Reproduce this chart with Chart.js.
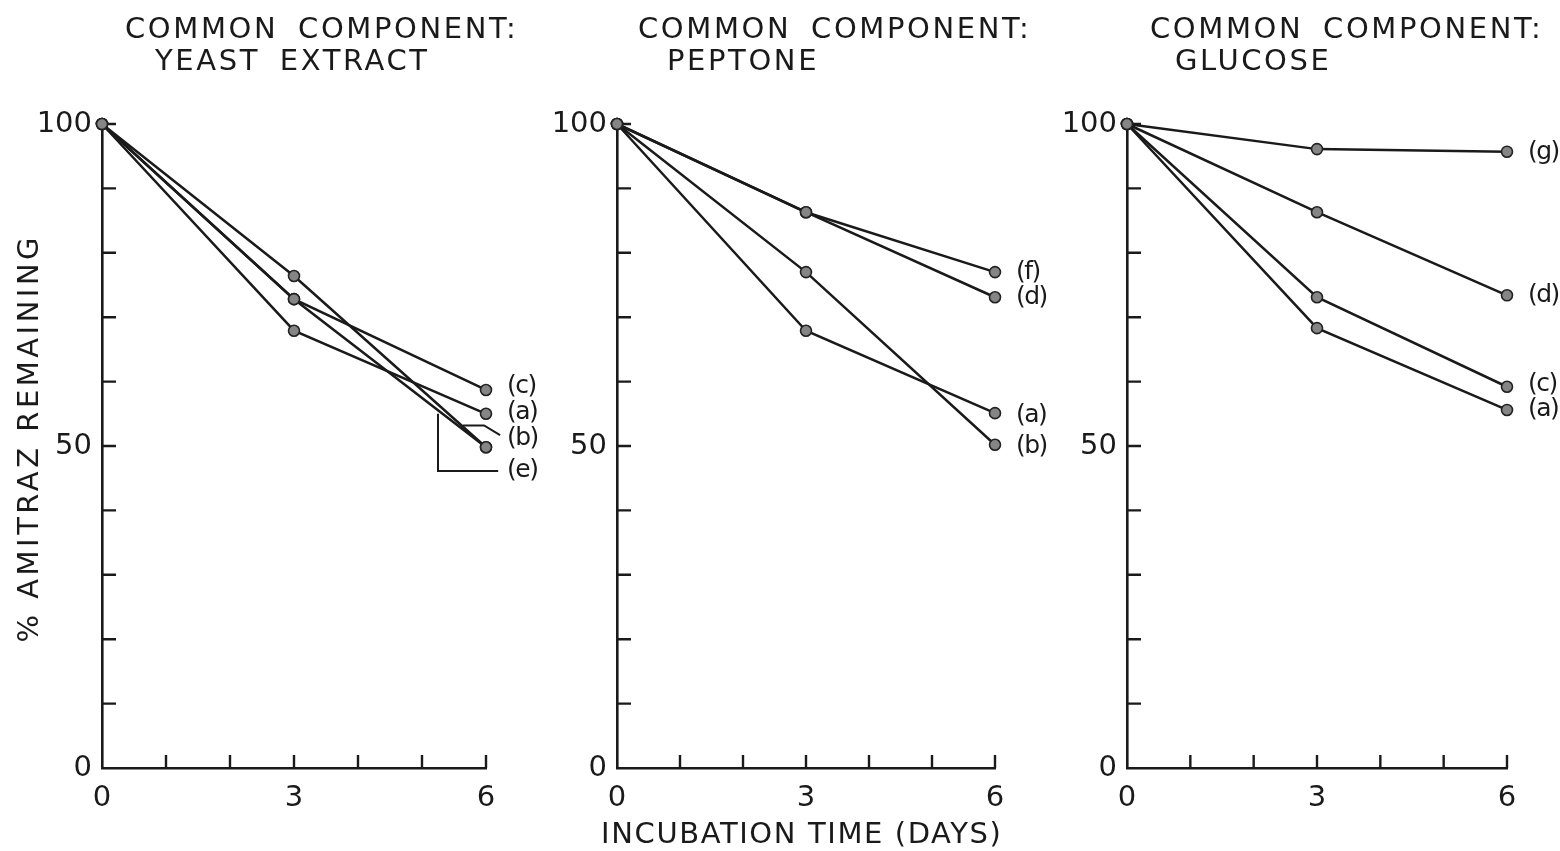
<!DOCTYPE html>
<html>
<head>
<meta charset="utf-8">
<script src="https://cdn.jsdelivr.net/npm/chart.js@4.4.1/dist/chart.umd.min.js"></script>
<style>
  html, body { margin: 0; padding: 0; background: #ffffff; }
  #wrap { position: relative; width: 1560px; height: 851px; background: #ffffff; overflow: hidden; }
  #wrap canvas { position: absolute; left: 0; top: 0; }
</style>
</head>
<body>
<div id="wrap">
  <canvas id="p1" width="1560" height="851"></canvas>
  <canvas id="p2" width="1560" height="851"></canvas>
  <canvas id="p3" width="1560" height="851"></canvas>
</div>
<script>
// Incubation time (days) and axis labels
const days = [0, 3, 6];
const xTickLabels = [0, 3, 6];
const yTickLabels = [0, 50, 100];

// % amitraz remaining — common component: yeast extract
const yeastC = [100, 72.8, 58.7];
const yeastA = [100, 67.9, 55.0];
const yeastB = [100, 76.4, 49.8];
const yeastE = [100, 72.8, 49.8];

// common component: peptone
const peptoneF = [100, 86.3, 77.0];
const peptoneD = [100, 86.3, 73.1];
const peptoneA = [100, 67.9, 55.1];
const peptoneB = [100, 77.0, 50.2];

// common component: glucose
const glucoseG = [100, 96.1, 95.7];
const glucoseD = [100, 86.3, 73.4];
const glucoseC = [100, 73.1, 59.2];
const glucoseA = [100, 68.3, 55.6];

const FONT = '"DejaVu Sans", "Liberation Sans", sans-serif';
const INK = '#1a1a1a';
const Y_W = 95;   // width reserved for the y scale
const X_H = 60;   // height reserved for the x scale

const panels = [
  {
    id: 'p1', left: 102, right: 486,
    title: ['COMMON COMPONENT:', 'YEAST EXTRACT'], indent: [23, 53],
    series: [
      { name: 'c', values: yeastC, shift: -3 },
      { name: 'a', values: yeastA, shift: -1 },
      { name: 'b', values: yeastB, shift: -9 },
      { name: 'e', values: yeastE, shift: 23 }
    ],
    // leader lines tying (b) and (e) to their curves, in data units
    leaders: [
      [[5.64, 53.2], [5.97, 53.2], [6.22, 51.7]],
      [[5.25, 55.0], [5.25, 46.1], [6.19, 46.1]]
    ],
    yTitle: '% AMITRAZ REMAINING'
  },
  {
    id: 'p2', left: 617, right: 995,
    title: ['COMMON COMPONENT:', 'PEPTONE'], indent: [21, 50],
    series: [
      { name: 'f', values: peptoneF, shift: 0 },
      { name: 'd', values: peptoneD, shift: 0 },
      { name: 'a', values: peptoneA, shift: 2 },
      { name: 'b', values: peptoneB, shift: 2 }
    ],
    leaders: [],
    xTitle: 'INCUBATION TIME (DAYS)'
  },
  {
    id: 'p3', left: 1127, right: 1507,
    title: ['COMMON COMPONENT:', 'GLUCOSE'], indent: [23, 48],
    series: [
      { name: 'g', values: glucoseG, shift: 1 },
      { name: 'd', values: glucoseD, shift: 0 },
      { name: 'c', values: glucoseC, shift: -2 },
      { name: 'a', values: glucoseA, shift: 0 }
    ],
    leaders: []
  }
];

function drawText(ctx, text, x, y, size, spacing, align, wordGap) {
  ctx.save();
  ctx.font = size + 'px ' + FONT;
  ctx.fillStyle = INK;
  ctx.letterSpacing = spacing + 'px';
  ctx.wordSpacing = (wordGap || 0) + 'px';
  ctx.textBaseline = 'middle';
  const w = ctx.measureText(text).width - spacing;
  const sx = align === 'center' ? x - w / 2 : x;
  ctx.textAlign = 'left';
  ctx.fillText(text, sx, y);
  ctx.restore();
}

// Inward tick marks on both axes
const innerTicks = {
  id: 'innerTicks',
  beforeDatasetsDraw(chart) {
    const { ctx, scales: { x, y }, chartArea: a } = chart;
    ctx.save();
    ctx.strokeStyle = INK;
    ctx.lineWidth = 2.4;
    ctx.beginPath();
    for (let v = 1; v <= 6; v++) {
      const px = x.getPixelForValue(v);
      ctx.moveTo(px, a.bottom);
      ctx.lineTo(px, a.bottom - 13);
    }
    for (let v = 10; v <= 100; v += 10) {
      const py = y.getPixelForValue(v);
      ctx.moveTo(a.left, py);
      ctx.lineTo(a.left + 14, py);
    }
    ctx.stroke();
    ctx.restore();
  }
};

// Titles, axis titles, curve labels and leader lines
const decor = {
  id: 'decor',
  afterDraw(chart, args, opts) {
    const p = opts.panel;
    const { ctx, scales: { x, y }, chartArea: a } = chart;
    drawText(ctx, p.title[0], a.left + p.indent[0], 30, 29, 2.6, 'left', 8);
    drawText(ctx, p.title[1], a.left + p.indent[1], 62, 29, 2.6, 'left', 8);

    if (p.yTitle) {
      ctx.save();
      ctx.translate(30, 440);
      ctx.rotate(-Math.PI / 2);
      drawText(ctx, p.yTitle, 0, 0, 29, 3.5, 'center');
      ctx.restore();
    }
    if (p.xTitle) {
      drawText(ctx, p.xTitle, (a.left + a.right) / 2 - 5, 835, 29, 1.6, 'center');
    }

    chart.data.datasets.forEach((ds, i) => {
      const meta = chart.getDatasetMeta(i);
      const last = meta.data[meta.data.length - 1];
      drawText(ctx, '(' + ds.label + ')', last.x + 21, last.y + p.series[i].shift, 25, -1.5, 'left');
    });

    ctx.save();
    ctx.strokeStyle = INK;
    ctx.lineWidth = 2;
    p.leaders.forEach(path => {
      ctx.beginPath();
      path.forEach(([vx, vy], k) => {
        const px = x.getPixelForValue(vx), py = y.getPixelForValue(vy);
        if (k === 0) ctx.moveTo(px, py); else ctx.lineTo(px, py);
      });
      ctx.stroke();
    });
    ctx.restore();
  }
};

panels.forEach(p => {
  const datasets = p.series.map(s => ({
    label: s.name,
    data: days.map((d, i) => ({ x: d, y: s.values[i] })),
    borderColor: INK,
    borderWidth: 2.5,
    tension: 0,
    fill: false,
    clip: false,
    pointRadius: 5.5,
    pointBackgroundColor: '#858585',
    pointBorderColor: '#222222',
    pointBorderWidth: 1.6
  }));

  new Chart(document.getElementById(p.id), {
    type: 'line',
    data: { datasets },
    options: {
      responsive: false,
      animation: false,
      devicePixelRatio: 1,
      layout: {
        padding: { left: p.left - Y_W, right: 1560 - p.right, top: 124, bottom: 851 - 768 - X_H }
      },
      plugins: {
        legend: { display: false },
        tooltip: { enabled: false },
        decor: { panel: p }
      },
      scales: {
        x: {
          type: 'linear', min: 0, max: 6,
          afterFit(s) { s.height = X_H; },
          grid: { display: true, drawOnChartArea: false, drawTicks: false },
          border: { display: true, color: INK, width: 2.6 },
          ticks: {
            stepSize: 1, autoSkip: false, maxRotation: 0, padding: 13, color: INK,
            font: { family: FONT, size: 29 },
            callback: v => xTickLabels.includes(v) ? String(v) : ''
          }
        },
        y: {
          type: 'linear', min: 0, max: 100,
          afterFit(s) { s.width = Y_W; },
          grid: { display: true, drawOnChartArea: false, drawTicks: false },
          border: { display: true, color: INK, width: 2.6 },
          ticks: {
            stepSize: 10, autoSkip: false, padding: 10, color: INK,
            font: { family: FONT, size: 29 },
            callback: v => yTickLabels.includes(v) ? String(v) : ''
          }
        }
      }
    },
    plugins: [innerTicks, decor]
  });
});
</script>
</body>
</html>
